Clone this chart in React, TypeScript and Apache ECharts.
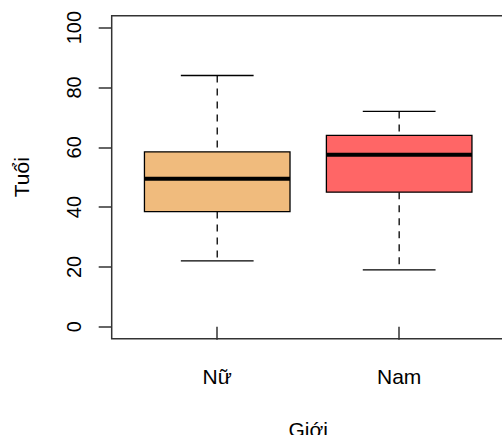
import React, { useEffect, useRef } from "react";
import * as echarts from "echarts";

const categories = ["Nữ", "Nam"];
const lowerWhisker = [22, 19];
const q1 = [38.5, 45];
const median = [49.5, 57.5];
const q3 = [58.5, 64];
const upperWhisker = [84, 72];
const boxColors = ["#F0BB7D", "#FF6666"];
const yTicks = [0, 20, 40, 60, 80, 100];
const xTicks = [1, 2];

const FONT = "'Liberation Sans', Arial, Helvetica, sans-serif";

export default function App() {
  const ref = useRef<HTMLDivElement>(null);
  useEffect(() => {
    if (!ref.current) return;
    const chart = echarts.init(ref.current, null, { renderer: "svg" });
    const data = categories.map((_, i) => [
      i + 1,
      lowerWhisker[i],
      q1[i],
      median[i],
      q3[i],
      upperWhisker[i],
    ]);
    chart.setOption({
      animation: false,
      textStyle: { fontFamily: FONT },
      grid: {
        left: 111.7,
        top: 15.7,
        width: 393,
        height: 323,
        outerBoundsMode: "none",
        containLabel: false,
        show: true,
        borderColor: "#333",
        borderWidth: 1.5,
        backgroundColor: "transparent",
      },
      xAxis: {
        type: "value",
        min: 0.42,
        max: 2.58,
        splitLine: { show: false },
        axisLine: { show: false },
        axisTick: {
          show: true,
          customValues: xTicks,
          length: 13,
          lineStyle: { color: "#333", width: 1.5 },
        },
        axisLabel: {
          customValues: xTicks,
          formatter: (v: number) => categories[Math.round(v) - 1] ?? "",
          fontSize: 21,
          color: "#000",
          fontFamily: FONT,
          margin: 27,
        },
        name: "Giới",
        nameLocation: "middle",
        nameGap: 80,
        nameTextStyle: { fontSize: 21, color: "#000", fontFamily: FONT },
      },
      yAxis: {
        type: "value",
        min: -4,
        max: 104,
        splitLine: { show: false },
        axisLine: { show: false },
        axisTick: {
          show: true,
          customValues: yTicks,
          length: 13,
          lineStyle: { color: "#333", width: 1.5 },
        },
        axisLabel: {
          customValues: yTicks,
          rotate: 90,
          fontSize: 20,
          color: "#000",
          fontFamily: FONT,
          margin: 28,
        },
        name: "Tuổi",
        nameLocation: "middle",
        nameRotate: 90,
        nameGap: 80,
        nameTextStyle: { fontSize: 21, color: "#000", fontFamily: FONT },
      },
      series: [
        {
          type: "custom",
          data,
          renderItem: (params: any, api: any) => {
            const x = api.value(0);
            const lo = api.coord([x, api.value(1)]);
            const b1 = api.coord([x, api.value(2)]);
            const md = api.coord([x, api.value(3)]);
            const b3 = api.coord([x, api.value(4)]);
            const hi = api.coord([x, api.value(5)]);
            const boxW = api.size([0.8, 0])[0];
            const capW = api.size([0.4, 0])[0];
            const cx = lo[0];
            const color = boxColors[params.dataIndex];
            const dash = { stroke: "#000", lineWidth: 1.3, lineDash: [7, 6] };
            const solid = { stroke: "#000", lineWidth: 1.3 };
            return {
              type: "group",
              children: [
                { type: "line", shape: { x1: cx, y1: hi[1], x2: cx, y2: b3[1] }, style: dash },
                { type: "line", shape: { x1: cx, y1: b1[1], x2: cx, y2: lo[1] }, style: dash },
                { type: "line", shape: { x1: cx - capW / 2, y1: hi[1], x2: cx + capW / 2, y2: hi[1] }, style: solid },
                { type: "line", shape: { x1: cx - capW / 2, y1: lo[1], x2: cx + capW / 2, y2: lo[1] }, style: solid },
                {
                  type: "rect",
                  shape: { x: cx - boxW / 2, y: b3[1], width: boxW, height: b1[1] - b3[1] },
                  style: { fill: color, stroke: "#000", lineWidth: 1.3 },
                },
                {
                  type: "line",
                  shape: { x1: cx - boxW / 2, y1: md[1], x2: cx + boxW / 2, y2: md[1] },
                  style: { stroke: "#000", lineWidth: 4 },
                },
              ],
            };
          },
        },
      ],
    });
    return () => chart.dispose();
  }, []);
  return <div ref={ref} style={{ width: 502, height: 435, position: "absolute", left: 0, top: 0 }} />;
}
